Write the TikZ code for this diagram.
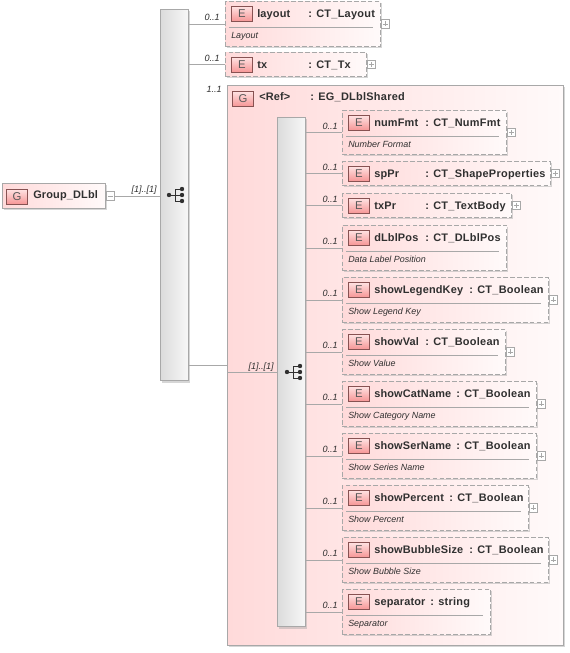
\documentclass[tikz,border=0pt]{standalone}
\usepackage{fontspec}
\setmainfont{Liberation Sans}
\newfontfamily\namefont[LetterSpace=1.5]{Liberation Sans}
\newfontfamily\typefont[LetterSpace=2.5]{Liberation Sans}
\usetikzlibrary{shadows, positioning, calc}
\definecolor{edge1}{RGB}{168, 168, 168}
\definecolor{pink1}{RGB}{255, 218, 218}
\definecolor{pink2}{RGB}{255, 250, 250}
\definecolor{badge1}{RGB}{246, 150, 150}
\definecolor{badge2}{RGB}{255, 226, 226}
\definecolor{ink1}{RGB}{48, 48, 48}
\tikzset{
  softshadow/.style={drop shadow={shadow xshift=1.4pt, shadow yshift=-1.4pt, fill=black!35, opacity=.45}},
  optbox/.style={draw=edge1, dashed, dash pattern=on 3.6pt off 1.6pt, line width=.7pt, left color=pink1, right color=pink2, inner sep=0pt, softshadow},
  groupbox/.style={draw=edge1, line width=.7pt, left color=pink1, right color=pink2, inner sep=0pt, softshadow},
  seqbox/.style={draw=edge1, line width=.7pt, left color=black!14, right color=black!3, inner sep=0pt, softshadow},
  badge/.style={draw=black!45!badge1, line width=.6pt, top color=badge2, bottom color=badge1, inner sep=0pt, minimum width=15.8pt, minimum height=11pt, text=black!65, font=\fontsize{8.5}{10}\selectfont},
  plusbox/.style={draw=edge1, fill=white, line width=.4pt, inner sep=0pt, minimum size=6.4pt},
  nametext/.style={text=ink1, inner sep=0pt, font=\namefont\fontsize{8.2}{10}\bfseries\selectfont},
  typetext/.style={text=ink1, inner sep=0pt, font=\typefont\fontsize{8.2}{10}\bfseries\selectfont},
  desctext/.style={text=ink1, inner sep=0pt, font=\fontsize{6.7}{8}\itshape\selectfont},
  multtext/.style={text=ink1, inner sep=0pt, font=\fontsize{6.8}{8}\itshape\selectfont},
  wire/.style={draw=edge1, line width=.7pt}
}
% box, badge, name and type of one element
\newcommand{\elembox}[8]{
  \node[optbox, anchor=north west, minimum width=#4*.75pt-.75pt, minimum height=#5*.75pt-.75pt] (#1) at (#2,#3) {};
  \node[badge, anchor=north west] (#1badge) at ($(#1.north west)+(6,5)$) {E};
  \node[nametext, anchor=base west] (#1name) at (#2+32,#3+16) {#6};
  \node[typetext, anchor=base west] (#1type) at (#7,#3+16) {: #8};
}
% rule and description under the name
\newcommand{\elemdesc}[2]{
  \draw[wire, line width=.5pt] ($(#1.north west)+(4,26)$) -- ($(#1.north east)+(-8,26)$);
  \node[desctext, anchor=base west] (#1desc) at ($(#1.north west)+(6,37)$) {#2};
}
\newcommand{\elemplus}[1]{
  \node[plusbox, anchor=west] (#1plus) at (#1.east) {};
  \draw[edge1, line width=.4pt] ($(#1plus.center)+(-2.5,0)$) -- ($(#1plus.center)+(2.5,0)$);
  \draw[edge1, line width=.4pt] ($(#1plus.center)+(0,-2.5)$) -- ($(#1plus.center)+(0,2.5)$);
}
\newcommand{\seqicon}[2]{
  \fill[ink1] (#1,#2) circle (2.2);
  \draw[ink1, line width=.6pt] (#1,#2) -- (#1+13,#2);
  \draw[ink1, line width=.6pt] (#1+13,#2-6) -- (#1+6,#2-6) -- (#1+6,#2+6) -- (#1+13,#2+6);
  \fill[ink1] (#1+13,#2-6) circle (2.2);
  \fill[ink1] (#1+13,#2) circle (2.2);
  \fill[ink1] (#1+13,#2+6) circle (2.2);
}
\begin{document}
\begin{tikzpicture}[x=.75pt, y=-.75pt]
  \useasboundingbox[fill=white] (0,0) rectangle (570,653);

  % outer sequence
  \node[seqbox, anchor=north west, minimum width=21pt, minimum height=278.5pt] (seqouter) at (160,9) {};
  \seqicon{169}{195}
  \node[groupbox, anchor=north west, minimum width=77.25pt, minimum height=18.75pt] (dlbl) at (2,183) {};
  \node[badge, anchor=north west] (dlblbadge) at (6,189) {G};
  \node[nametext, anchor=base west] (dlblname) at (33,198) {Group\_DLbl};
  \node[plusbox, anchor=west] (dlblminus) at (dlbl.east) {};
  \draw[edge1, line width=.4pt] ($(dlblminus.center)+(-2.5,0)$) -- ($(dlblminus.center)+(2.5,0)$);
  \draw[wire] (dlblminus.east) -- (seqouter.west |- dlblminus.east);
  \node[multtext, anchor=south east] (dlblmult) at (157,195) {[1]..[1]};

  \elembox{layout}{225}{1}{156}{46}{layout}{308}{CT\_Layout}
  \elemdesc{layout}{Layout}
  \elemplus{layout}
  \draw[wire] (seqouter.east |- layout.west) -- (layout.west);
  \node[multtext, anchor=south east] (layoutmult) at (220,21) {0..1};

  \elembox{tx}{225}{52}{142}{25}{tx}{308}{CT\_Tx}
  \elemplus{tx}
  \draw[wire] (seqouter.east |- tx.west) -- (tx.west);
  \node[multtext, anchor=south east] (txmult) at (220,62) {0..1};

  % shared group
  \node[groupbox, anchor=north west, minimum width=252pt, minimum height=420pt] (shared) at (227,85) {};
  \node[badge, anchor=north west] (sharedbadge) at (232,91) {G};
  \node[nametext, anchor=base west] (sharedname) at (259,100) {<Ref>};
  \node[typetext, anchor=base west] (sharedtype) at (310,100) {: EG\_DLblShared};
  \node[multtext, anchor=south east] (sharedmult) at (222,93) {1..1};
  \coordinate (sharedin) at (shared.west |- 0,365);
  \draw[wire] (seqouter.east |- sharedin) -- (sharedin);

  % inner sequence
  \node[seqbox, anchor=north west, minimum width=21pt, minimum height=382pt] (seqinner) at (277,117) {};
  \seqicon{287}{372}
  \coordinate (innerin) at (seqinner.west |- 0,372);
  \draw[wire] (innerin -| shared.west) -- (innerin);
  \node[multtext, anchor=south east] (innermult) at (274,372) {[1]..[1]};

  \elembox{numFmt}{342}{110}{165}{45}{numFmt}{425}{CT\_NumFmt}
  \elemdesc{numFmt}{Number Format}
  \elemplus{numFmt}
  \elembox{spPr}{342}{161}{209}{25}{spPr}{425}{CT\_ShapeProperties}
  \elemplus{spPr}
  \elembox{txPr}{342}{193}{170}{25}{txPr}{425}{CT\_TextBody}
  \elemplus{txPr}
  \elembox{dLblPos}{342}{225}{165}{46}{dLblPos}{425}{CT\_DLblPos}
  \elemdesc{dLblPos}{Data Label Position}
  \elembox{showLegendKey}{342}{277}{207}{46}{showLegendKey}{469}{CT\_Boolean}
  \elemdesc{showLegendKey}{Show Legend Key}
  \elemplus{showLegendKey}
  \elembox{showVal}{342}{329}{164}{46}{showVal}{425}{CT\_Boolean}
  \elemdesc{showVal}{Show Value}
  \elemplus{showVal}
  \elembox{showCatName}{342}{381}{195}{46}{showCatName}{456}{CT\_Boolean}
  \elemdesc{showCatName}{Show Category Name}
  \elemplus{showCatName}
  \elembox{showSerName}{342}{433}{195}{46}{showSerName}{456}{CT\_Boolean}
  \elemdesc{showSerName}{Show Series Name}
  \elemplus{showSerName}
  \elembox{showPercent}{342}{485}{187}{46}{showPercent}{449}{CT\_Boolean}
  \elemdesc{showPercent}{Show Percent}
  \elemplus{showPercent}
  \elembox{showBubbleSize}{342}{537}{207}{46}{showBubbleSize}{469}{CT\_Boolean}
  \elemdesc{showBubbleSize}{Show Bubble Size}
  \elemplus{showBubbleSize}
  \elembox{separator}{342}{589}{149}{46}{separator}{430}{string}
  \elemdesc{separator}{Separator}

  % connectors to the elements
  \foreach \elemname in {numFmt, spPr, txPr, dLblPos, showLegendKey, showVal, showCatName, showSerName, showPercent, showBubbleSize, separator} {
    \draw[wire] (seqinner.east |- \elemname.west) -- (\elemname.west);
    \node[multtext, anchor=south east, yshift=2pt] (\elemname mult) at ($(\elemname.west)+(-4,0)$) {0..1};
  }
\end{tikzpicture}
\end{document}
